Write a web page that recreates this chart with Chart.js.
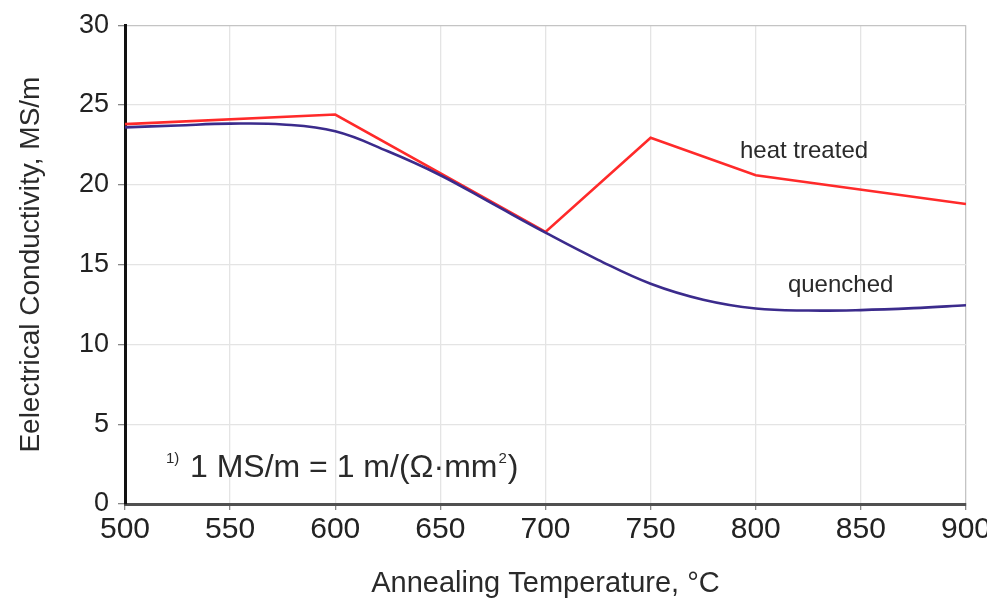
<!DOCTYPE html>
<html>
<head>
<meta charset="utf-8">
<title>Electrical Conductivity vs Annealing Temperature</title>
<script src="https://cdn.jsdelivr.net/npm/chart.js@4/dist/chart.umd.min.js"></script>
<style>
  html, body { margin: 0; padding: 0; background: #fff; }
  #chart { display: block; }
</style>
</head>
<body>
<canvas id="chart" width="987" height="601"></canvas>
<script>
// annealing temperatures (°C) and conductivity (MS/m)
const heatTemps = [500, 600, 700, 750, 800, 900];
const heatValues = [23.8, 24.4, 17.05, 22.95, 20.6, 18.8];

const quenchTemps = [500, 525, 550, 575, 600, 625, 650, 675, 700, 725, 750, 775, 800, 825, 850, 875, 900];
const quenchValues = [23.6, 23.72, 23.83, 23.78, 23.35, 22.1, 20.6, 18.8, 17.0, 15.3, 13.8, 12.8, 12.25, 12.12, 12.15, 12.27, 12.45];

const xTicks = [500, 550, 600, 650, 700, 750, 800, 850, 900];
const yTicks = [0, 5, 10, 15, 20, 25, 30];

const FONT = "'Liberation Sans', Arial, Helvetica, sans-serif";

const toPoints = (xs, ys) => xs.map((x, i) => ({ x: x, y: ys[i] }));

// curve labels and unit footnote, anchored in data units
const notes = {
  id: 'notes',
  afterDatasetsDraw(chart) {
    const { ctx, scales: { x, y } } = chart;
    ctx.save();
    ctx.fillStyle = '#2a2a2a';
    ctx.textBaseline = 'alphabetic';
    ctx.textAlign = 'left';

    ctx.font = '24px ' + FONT;
    ctx.fillText('heat treated', x.getPixelForValue(792.5), y.getPixelForValue(21.7));
    ctx.fillText('quenched', x.getPixelForValue(815.3), y.getPixelForValue(13.27));

    // 1) 1 MS/m = 1 m/(Ω·mm²)
    ctx.font = '15px ' + FONT;
    ctx.fillText('1)', x.getPixelForValue(519.5), y.getPixelForValue(2.6));
    ctx.font = '32px ' + FONT;
    let px = x.getPixelForValue(530.9);
    const base = y.getPixelForValue(1.69);
    const main = '1 MS/m = 1 m/(\u03A9\u00B7mm';
    ctx.fillText(main, px, base);
    px += ctx.measureText(main).width + 1;
    ctx.font = '15px ' + FONT;
    ctx.fillText('2', px, base - 14);
    px += ctx.measureText('2').width + 1;
    ctx.font = '32px ' + FONT;
    ctx.fillText(')', px, base);
    ctx.restore();
  }
};

new Chart(document.getElementById('chart'), {
  type: 'line',
  data: {
    datasets: [
      {
        label: 'quenched',
        data: toPoints(quenchTemps, quenchValues),
        borderColor: '#3b2b8c',
        borderWidth: 2.6,
        pointRadius: 0,
        tension: 0.4,
        fill: false
      },
      {
        label: 'heat treated',
        data: toPoints(heatTemps, heatValues),
        borderColor: '#ff2a2a',
        borderWidth: 2.6,
        pointRadius: 0,
        tension: 0,
        fill: false
      }
    ]
  },
  options: {
    responsive: false,
    animation: false,
    layout: { padding: { left: 0, right: 21, top: 24, bottom: 0 } },
    plugins: {
      legend: { display: false },
      tooltip: { enabled: false }
    },
    scales: {
      x: {
        type: 'linear',
        min: 500,
        max: 900,
        afterBuildTicks: s => { s.ticks = xTicks.map(v => ({ value: v })); },
        afterFit: s => { s.height = 97; s.paddingLeft = 0; s.paddingRight = 0; },
        ticks: {
          color: '#222',
          font: { family: FONT, size: 30 },
          padding: 2,
          maxRotation: 0,
          autoSkip: false
        },
        grid: {
          color: c => (c.tick && c.tick.value === 900 ? '#c4c4c4' : '#e4e4e4'),
          lineWidth: 1.3,
          tickLength: 6,
          tickColor: '#888'
        },
        border: { color: '#505050', width: 3 },
        title: {
          display: true,
          text: 'Annealing Temperature, \u00B0C',
          color: '#2a2a2a',
          font: { family: FONT, size: 29 },
          padding: { top: 6, bottom: 0 }
        }
      },
      y: {
        min: 0,
        max: 30,
        afterBuildTicks: s => { s.ticks = yTicks.map(v => ({ value: v })); },
        afterFit: s => { s.width = 125; },
        ticks: {
          color: '#222',
          font: { family: FONT, size: 27 },
          padding: 9
        },
        grid: {
          color: c => (c.tick && c.tick.value === 30 ? '#c4c4c4' : '#e4e4e4'),
          lineWidth: 1.3,
          tickLength: 7,
          tickColor: '#888'
        },
        border: { color: '#111', width: 3 },
        title: {
          display: true,
          text: 'Eelectrical Conductivity, MS/m',
          color: '#2a2a2a',
          font: { family: FONT, size: 28 },
          padding: { top: 14, bottom: 0 }
        }
      }
    }
  },
  plugins: [notes]
});
</script>
</body>
</html>
